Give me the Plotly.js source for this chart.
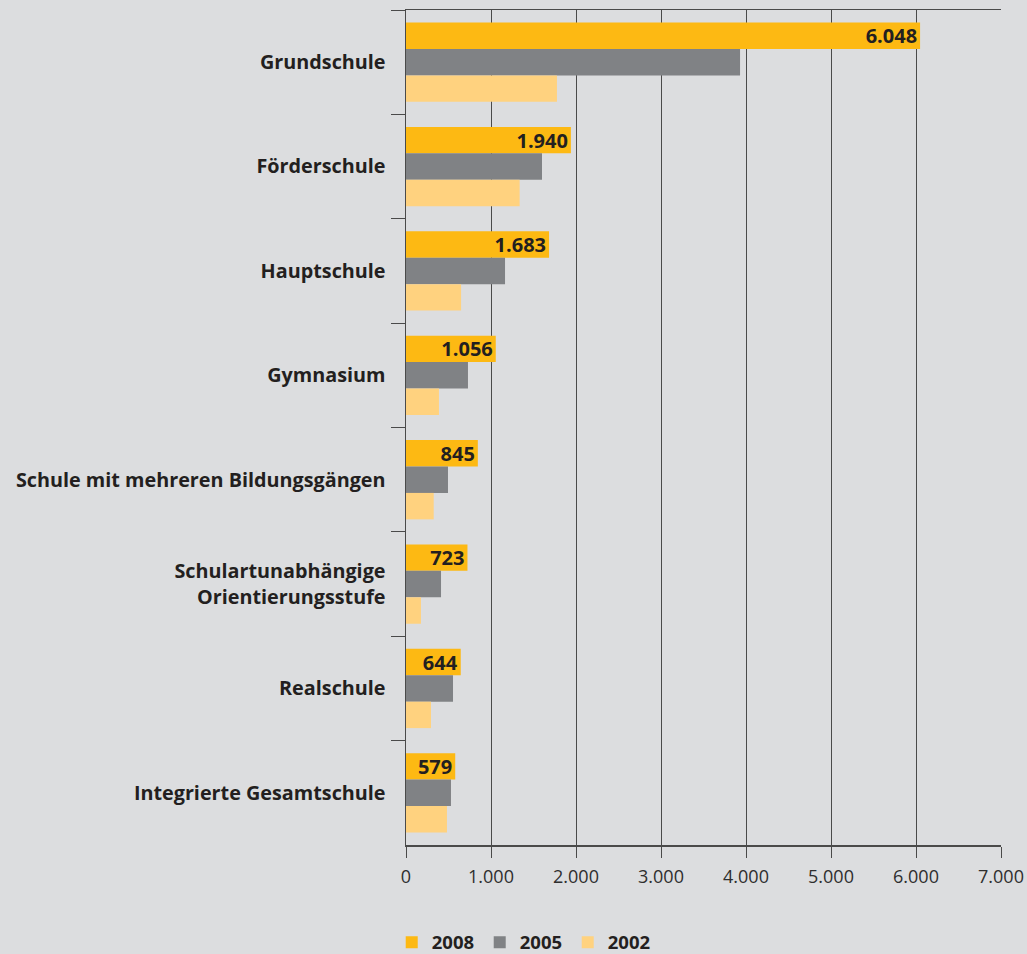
<!DOCTYPE html>
<html>
<head>
<meta charset="utf-8">
<script src="https://cdn.plot.ly/plotly-3.0.1.min.js"></script>
<style>html,body{margin:0;padding:0;background:#dcdddf;}#chart{width:1027px;height:954px;}</style>
</head>
<body>
<div id="chart"></div>
<script>
var categories = [
  "Grundschule",
  "Förderschule",
  "Hauptschule",
  "Gymnasium",
  "Schule mit mehreren Bildungsgängen",
  "Schulartunabhängige<br>Orientierungsstufe",
  "Realschule",
  "Integrierte Gesamtschule"
];
var values2008 = [6048, 1940, 1683, 1056, 845, 723, 644, 579];
var values2005 = [3930, 1600, 1165, 729, 494, 412, 553, 529];
var values2002 = [1776, 1337, 648, 388, 326, 176, 294, 482];
var seriesNames = ["2008", "2005", "2002"];
var xTicks = [0, 1000, 2000, 3000, 4000, 5000, 6000, 7000];

var colors = ["#fdb913", "#808285", "#ffd27f"];
var font = "'Open Sans', 'Noto Sans', sans-serif";

var traces = [
  {
    type: "bar", orientation: "h", name: seriesNames[0],
    y: categories, x: values2008,
    marker: {color: colors[0]},
    texttemplate: "%{x:,d}", textposition: "inside", insidetextanchor: "end",
    textangle: 0, constraintext: "none", cliponaxis: false,
    insidetextfont: {family: font, size: 20, color: "#231f20", weight: 700},
    hoverinfo: "x+y"
  },
  {
    type: "bar", orientation: "h", name: seriesNames[1],
    y: categories, x: values2005,
    marker: {color: colors[1]}, textposition: "none"
  },
  {
    type: "bar", orientation: "h", name: seriesNames[2],
    y: categories, x: values2002,
    marker: {color: colors[2]}, textposition: "none"
  }
];

var layout = {
  width: 1027, height: 954,
  paper_bgcolor: "#dcdddf", plot_bgcolor: "#dcdddf",
  margin: {l: 406, r: 26, t: 10, b: 109, autoexpand: false},
  separators: ",.",
  barmode: "group", bargap: 0.24, bargroupgap: 0,
  font: {family: font, color: "#231f20"},
  showlegend: true,
  legend: {
    orientation: "h", x: -0.024, xanchor: "left", y: -0.117, yanchor: "middle",
    font: {family: font, size: 18.5, weight: 700, color: "#231f20"},
    entrywidth: 43, entrywidthmode: "pixels", bgcolor: "rgba(0,0,0,0)",
    traceorder: "normal"
  },
  xaxis: {
    range: [0, 7000], tickvals: xTicks, tickformat: ",d",
    showgrid: true, gridcolor: "#4a4a4a", gridwidth: 1,
    showline: true, linecolor: "#4a4a4a", linewidth: 1.5, mirror: true,
    ticks: "outside", ticklen: 11, tickcolor: "#4a4a4a",
    tickfont: {family: font, size: 18, color: "#2e2e2e"},
    ticklabelstandoff: 4,
    zeroline: false, fixedrange: true
  },
  yaxis: {
    autorange: "reversed", type: "category",
    tickson: "boundaries", ticks: "outside", ticklen: 14, tickcolor: "#4a4a4a",
    showgrid: false, showline: true, linecolor: "#4a4a4a", linewidth: 1.5,
    tickfont: {family: font, size: 19.8, weight: 700, color: "#231f20"},
    ticklabelstandoff: 15,
    zeroline: false, fixedrange: true
  }
};

Plotly.newPlot("chart", traces, layout, {displayModeBar: false, staticPlot: true});
</script>
</body>
</html>
